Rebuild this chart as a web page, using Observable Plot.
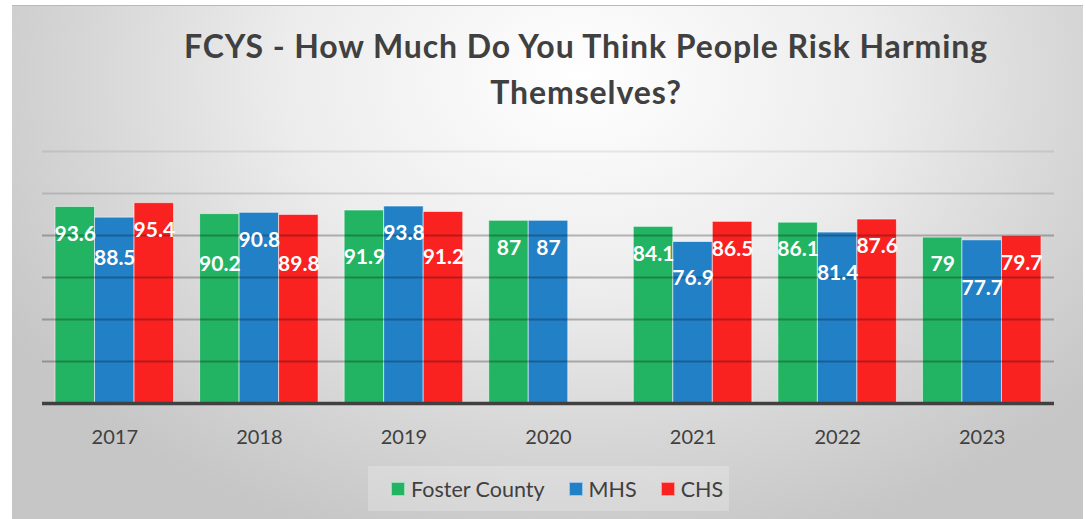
<!DOCTYPE html>
<html>
<head>
<meta charset="utf-8">
<script src="https://cdn.jsdelivr.net/npm/d3@7"></script>
<script src="https://cdn.jsdelivr.net/npm/@observablehq/plot@0.6"></script>
<style>
  html, body { margin: 0; padding: 0; background: #ffffff; }
  body { width: 1086px; height: 519px; position: relative; overflow: hidden; font-family: Lato, "Open Sans", sans-serif; }
  #bg { position: absolute; left: 12px; top: 5px; width: 1071px; height: 514px;
        background: radial-gradient(ellipse 62% 95% at 53% 14%, #ffffff 0%, #ececec 45%, #d6d6d6 75%, #c6c6c6 100%);
        border-top: 1px solid #b9b9b9; box-sizing: border-box; }
  #title { position: absolute; left: 86px; width: 1000px; top: 23px; text-align: center;
           font-family: Lato, sans-serif; font-weight: bold; font-size: 32px; letter-spacing: 0.9px;
           line-height: 46px; color: #404040; white-space: nowrap; }
  .layer { position: absolute; left: 0; top: 130px; }
  .layer svg { display: block; }
  #legend { position: absolute; left: 368px; top: 466px; width: 361px; height: 45px; box-sizing: border-box;
            background: rgba(255,255,255,0.22); display: flex; align-items: center; padding-left: 23px;
            font-family: Lato, sans-serif; font-size: 21.5px; color: #404040; white-space: nowrap; }
  .item { display: flex; align-items: center; margin-right: 24px; flex-shrink: 0; }
  .sw { width: 14px; height: 14px; box-sizing: border-box; margin-right: 6px; border: 1px solid rgba(255,255,255,0.55); }
</style>
</head>
<body>
<div id="bg"></div>
<div id="title">FCYS - How Much Do You Think People Risk Harming<br>Themselves?</div>
<div id="layers"></div>
<div id="legend"></div>
<script>
const years = ["2017", "2018", "2019", "2020", "2021", "2022", "2023"];
const series = ["Foster County", "MHS", "CHS"];
const fosterCounty = [93.6, 90.2, 91.9, 87, 84.1, 86.1, 79];
const mhs = [88.5, 90.8, 93.8, 87, 76.9, 81.4, 77.7];
const chs = [95.4, 89.8, 91.2, null, 86.5, 87.6, 79.7];
const colors = ["#23b463", "#2180c6", "#fa2121"];
const gridTicks = [20, 40, 60, 80, 100, 120];

const values = [fosterCounty, mhs, chs];
const data = [];
years.forEach((year, i) => {
  series.forEach((s, j) => {
    const v = values[j][i];
    if (v != null) data.push({year, series: s, value: v, i, j});
  });
});

const common = {
  width: 1086, height: 330,
  marginLeft: 42, marginRight: 32, marginTop: 21, marginBottom: 57,
  y: {domain: [0, 120], axis: null},
  style: {background: "transparent", fontFamily: "Lato, sans-serif", fontSize: "20px", color: "#404040", overflow: "visible"}
};
const facetScales = {
  fx: {domain: years, paddingInner: 0.18, paddingOuter: 0.09, round: false, label: null},
  x: {domain: series, paddingInner: 0, paddingOuter: 0, round: false, axis: null},
  color: {domain: series, range: colors}
};

// Layer 1: bars + year axis
const barsPlot = Plot.plot({
  ...common,
  ...facetScales,
  fx: {...facetScales.fx, axis: "bottom", tickSize: 0, tickPadding: 26},
  marks: [
    Plot.barY(data, {fx: "year", x: "series", y: "value", fill: "series",
      stroke: "rgba(255,255,255,0.55)", strokeWidth: 1, inset: 0})
  ]
});

// Label placement: inside the bar end; pushed lower when a taller neighbour's label would collide
const yScale = barsPlot.scale("y");
const py = v => yScale.apply(v);
const inv = p => yScale.invert ? yScale.invert(p) : (yScale.domain[0] + (p - yScale.range[0]) * (yScale.domain[1] - yScale.domain[0]) / (yScale.range[1] - yScale.range[0]));
const natural = d => py(d.value) + 27;
const byKey = new Map(data.map(d => [d.i + "-" + d.j, d]));
for (const d of data) {
  let p = natural(d);
  const nbs = [byKey.get(d.i + "-" + (d.j - 1)), byKey.get(d.i + "-" + (d.j + 1))].filter(n => n && n.value > d.value);
  for (const n of nbs) {
    const np = natural(n);
    if (Math.abs(p - np) < 24) p = Math.max(p, np + 24);
  }
  d.labelY = inv(p);
}

// Layer 2: gridlines and baseline across the whole frame
const gridPlot = Plot.plot({
  ...common,
  marks: [
    Plot.ruleY(gridTicks, {stroke: d => d >= 120 ? "rgba(0,0,0,0.08)" : d >= 100 ? "rgba(0,0,0,0.13)" : "rgba(0,0,0,0.26)", strokeWidth: 1.8}),
    Plot.ruleY([0], {stroke: "#404040", strokeWidth: 3.5})
  ]
});

// Layer 3: value labels
const labelPlot = Plot.plot({
  ...common,
  ...facetScales,
  fx: {...facetScales.fx, axis: null},
  marks: [
    Plot.text(data, {fx: "year", x: "series", y: "labelY", text: d => String(d.value),
      fill: "white", fontSize: 21, fontWeight: "bold"})
  ]
});

const layers = document.getElementById("layers");
for (const p of [barsPlot, gridPlot, labelPlot]) {
  const div = document.createElement("div");
  div.className = "layer";
  div.appendChild(p);
  layers.appendChild(div);
}

const legend = document.getElementById("legend");
series.forEach((s, i) => {
  const item = document.createElement("div");
  item.className = "item";
  const sw = document.createElement("div");
  sw.className = "sw";
  sw.style.background = colors[i];
  const t = document.createElement("span");
  t.textContent = s;
  item.appendChild(sw);
  item.appendChild(t);
  legend.appendChild(item);
});
</script>
</body>
</html>
